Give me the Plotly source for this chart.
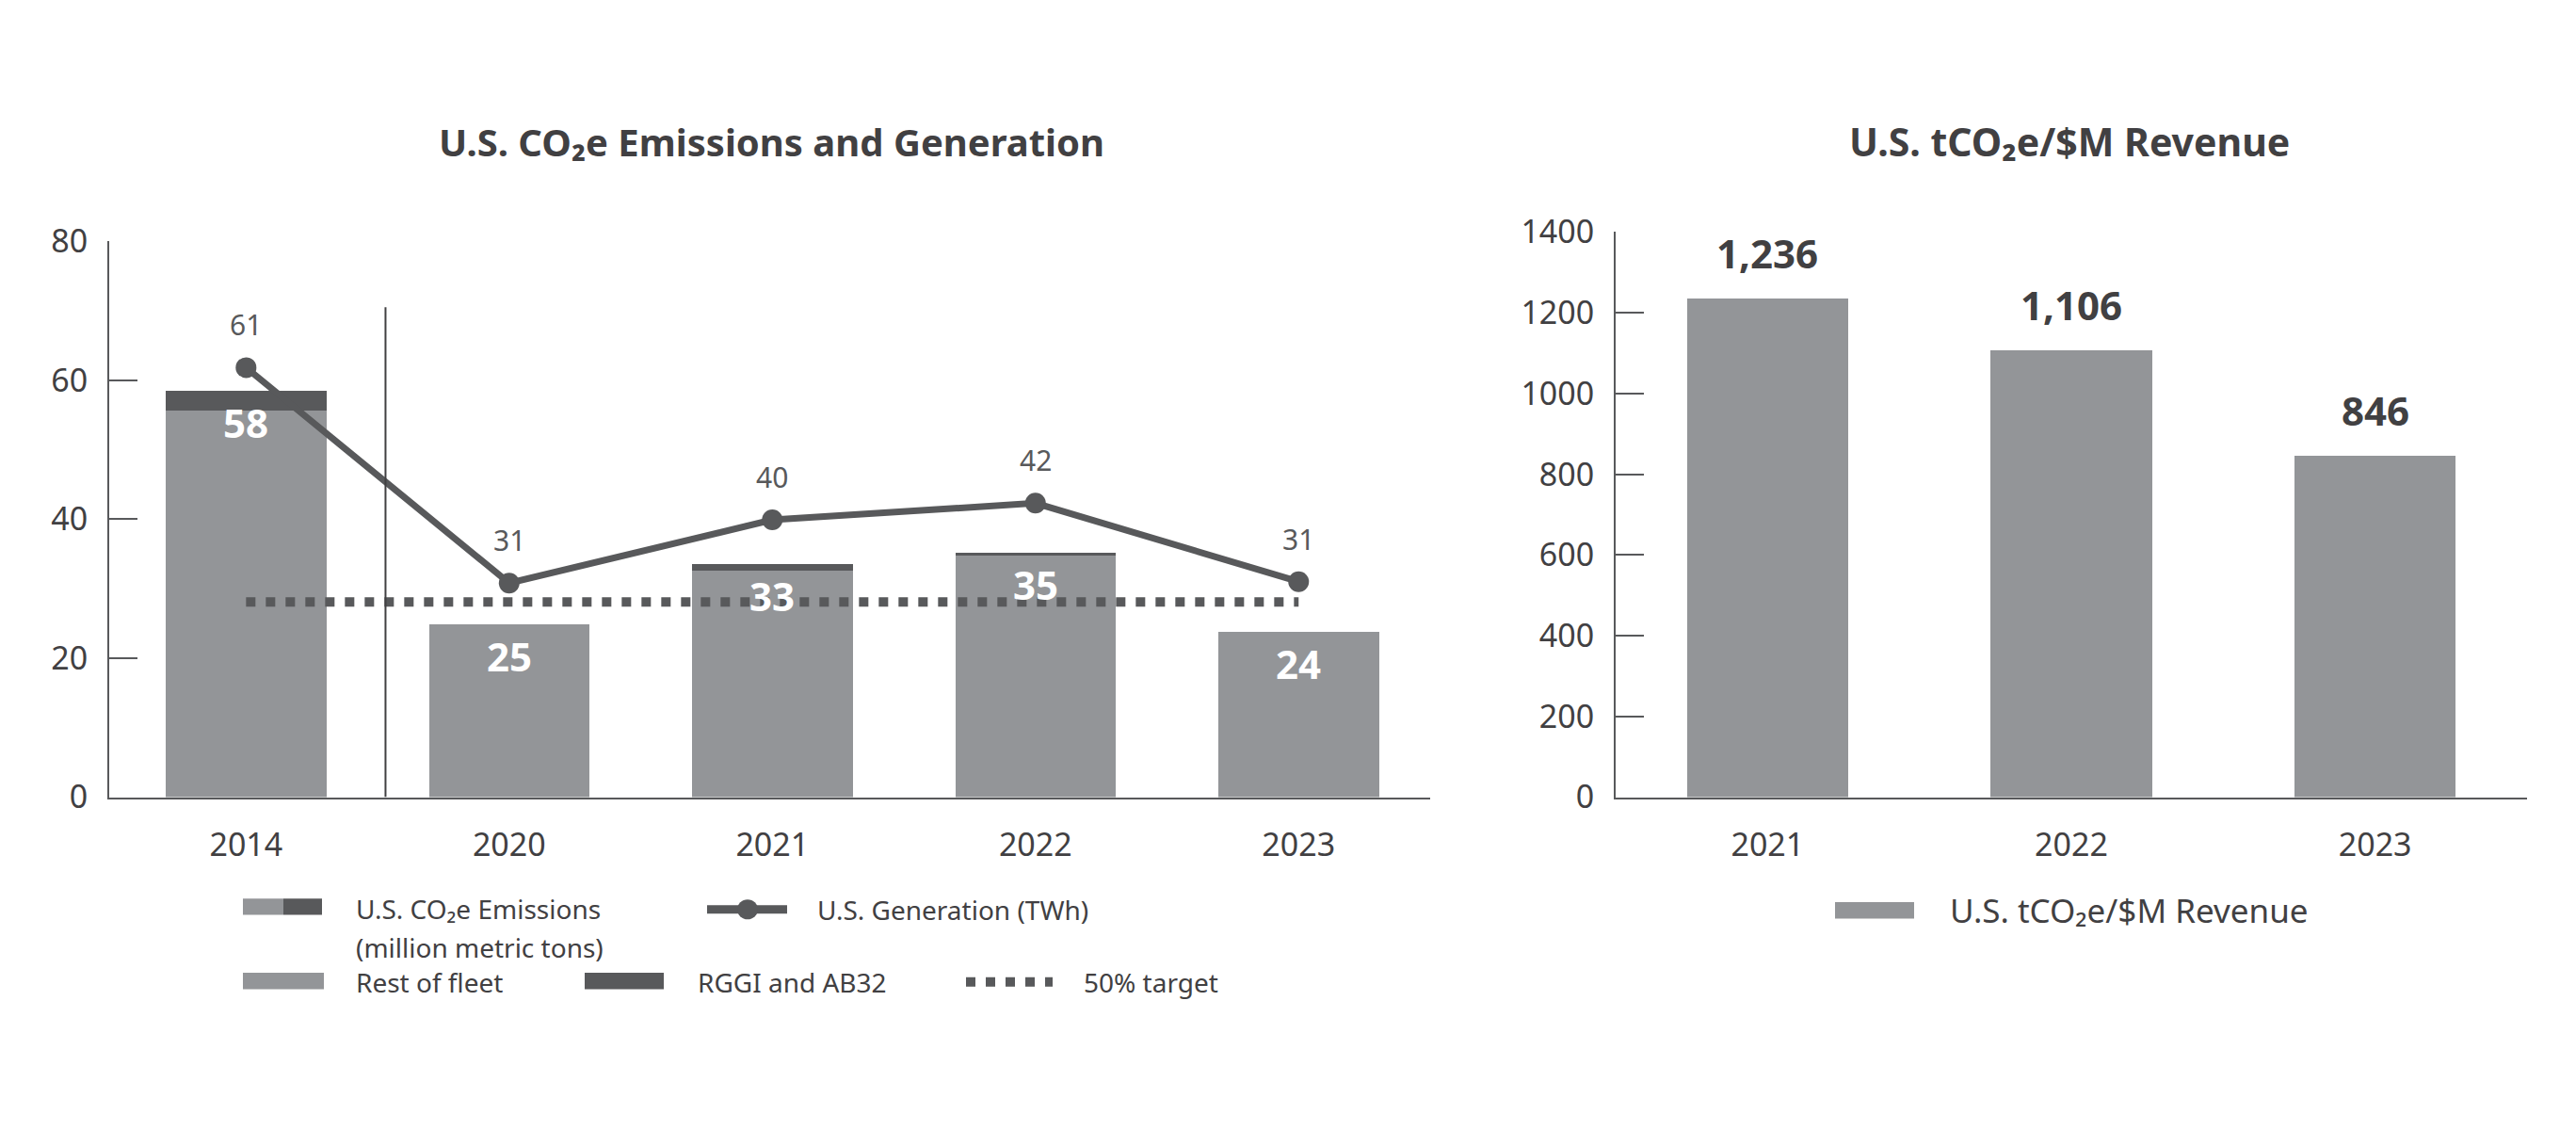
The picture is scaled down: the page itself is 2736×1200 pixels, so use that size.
import plotly.graph_objects as go
from plotly.subplots import make_subplots

# -------------------
# Dados
# -------------------

years_left = ["2014", "2020", "2021", "2022", "2023"]
rest_of_fleet = [55.6, 24.8, 32.6, 34.8, 23.8]
rggi_ab32 = [2.9, 0.0, 0.9, 0.3, 0.0]
emission_labels = ["58", "25", "33", "35", "24"]
generation = [61.8, 30.8, 39.9, 42.3, 31.0]
generation_labels = ["61", "31", "40", "42", "31"]
target_50 = [28.1, 28.1, 28.1, 28.1, 28.1]

years_right = ["2021", "2022", "2023"]
revenue_intensity = [1236, 1106, 846]
revenue_labels = ["1,236", "1,106", "846"]

LIGHT = "#939598"
DARK = "#58595b"
TEXT = "#414042"
FONT = "Noto Sans"
W, H = 2736, 1200
OFF = 8  # margem do body da pagina


def px(x, y):
    # pixel -> paper
    return (x - OFF) / W, 1 - (y - OFF) / H


fig = make_subplots(rows=1, cols=2)

# -------- grafico esquerdo --------

fig.add_trace(go.Bar(x=years_left, y=rest_of_fleet, marker=dict(color=LIGHT, line=dict(width=0)),
                     width=0.61, hoverinfo="skip"), row=1, col=1)
fig.add_trace(go.Bar(x=years_left, y=rggi_ab32, marker=dict(color=DARK, line=dict(width=0)),
                     width=0.61, hoverinfo="skip"), row=1, col=1)

fig.add_trace(go.Scatter(x=years_left, y=target_50, mode="lines",
                         line=dict(color=DARK, width=10, dash="10px,11px"),
                         hoverinfo="skip"), row=1, col=1)

fig.add_trace(go.Scatter(x=years_left, y=generation, mode="lines+markers",
                         line=dict(color=DARK, width=7),
                         marker=dict(color=DARK, size=22),
                         hoverinfo="skip"), row=1, col=1)

# -------- grafico direito --------

fig.add_trace(go.Bar(x=years_right, y=revenue_intensity, marker=dict(color=LIGHT, line=dict(width=0)),
                     width=0.53, hoverinfo="skip"), row=1, col=2)

annotations = []

# eixo categorico: anotacoes pelo indice da categoria
for i, (r, g, lab) in enumerate(zip(rest_of_fleet, rggi_ab32, emission_labels)):
    annotations.append(dict(x=i, y=r + g, xref="x", yref="y", text="<b>" + lab + "</b>",
                            showarrow=False, yanchor="top", yshift=-3,
                            font=dict(family=FONT, size=42, color="white")))

for i, (v, lab) in enumerate(zip(generation, generation_labels)):
    annotations.append(dict(x=i, y=v, xref="x", yref="y", text=lab,
                            showarrow=False, yanchor="bottom", yshift=23,
                            font=dict(family=FONT, size=30, color=DARK)))

for i, (v, lab) in enumerate(zip(revenue_intensity, revenue_labels)):
    annotations.append(dict(x=i, y=v, xref="x2", yref="y2", text="<b>" + lab + "</b>",
                            showarrow=False, yanchor="bottom", yshift=18,
                            font=dict(family=FONT, size=42, color=TEXT)))

# titulos
for cx, title, fs in [(819, "U.S. CO₂e Emissions and Generation", 40), (2198, "U.S. tCO₂e/$M Revenue", 41)]:
    x, y = px(cx, 131)
    annotations.append(dict(x=x, y=y, xref="paper", yref="paper", text="<b>" + title + "</b>",
                            showarrow=False, xanchor="center", yanchor="middle",
                            font=dict(family=FONT, size=fs, color=TEXT)))

# -------------------
# Legenda manual
# -------------------

shapes = []


def rect(x0, x1, yc, h, color):
    a0, b0 = px(x0, yc + h / 2)
    a1, b1 = px(x1, yc - h / 2)
    shapes.append(dict(type="rect", xref="paper", yref="paper", x0=a0, x1=a1, y0=b0, y1=b1,
                       fillcolor=color, line=dict(width=0)))


def label(x, y, text, size=28):
    a, b = px(x, y)
    annotations.append(dict(x=a, y=b, xref="paper", yref="paper", text=text, showarrow=False,
                            xanchor="left", yanchor="middle",
                            font=dict(family=FONT, size=size, color=TEXT)))


rect(258, 301, 976, 18, LIGHT)
rect(301, 342, 976, 18, DARK)
label(376, 978, "U.S. CO₂e Emissions")
label(376, 1021, "(million metric tons)")

a0, b0 = px(751, 979)
a1, _ = px(836, 979)
shapes.append(dict(type="line", xref="paper", yref="paper", x0=a0, x1=a1, y0=b0, y1=b0,
                   line=dict(color=DARK, width=9)))
c0, d0 = px(783, 990)
c1, d1 = px(805, 968)
shapes.append(dict(type="circle", xref="paper", yref="paper", x0=c0, x1=c1, y0=d0, y1=d1,
                   fillcolor=DARK, line=dict(width=0)))
label(866, 979, "U.S. Generation (TWh)")

rect(258, 344, 1058, 18, LIGHT)
label(376, 1059, "Rest of fleet")
rect(621, 705, 1058, 18, DARK)
label(739, 1059, "RGGI and AB32")

a0, b0 = px(1026, 1059)
a1, _ = px(1118, 1059)
shapes.append(dict(type="line", xref="paper", yref="paper", x0=a0, x1=a1, y0=b0, y1=b0,
                   line=dict(color=DARK, width=10, dash="10px,11px")))
label(1149, 1059, "50% target")

rect(1949, 2033, 980, 18, LIGHT)
label(2069, 980, "U.S. tCO₂e/$M Revenue", size=35)

# separador vertical
shapes.append(dict(type="line", xref="x", yref="y", x0=0.53, x1=0.53, y0=0, y1=70.5,
                   line=dict(color=TEXT, width=2)))

axis_common = dict(showgrid=False, zeroline=False, showline=True, linecolor=DARK, linewidth=2,
                   tickfont=dict(family=FONT, size=34, color=TEXT))

xl0, yb = px(116, 855)
xl1, yt_l = px(1519, 241)
xr0, _ = px(1716, 855)
xr1, yt_r = px(2684, 231)

fig.update_layout(
    width=W, height=H,
    barmode="stack",
    showlegend=False,
    margin=dict(l=0, r=0, t=0, b=0),
    plot_bgcolor="white",
    paper_bgcolor="white",
    annotations=annotations,
    shapes=shapes,
    xaxis=dict(domain=[xl0, xl1], type="category", range=[-0.52, 4.5],
               ticks="", ticklabelstandoff=20, **axis_common),
    yaxis=dict(domain=[yb, yt_l], range=[0, 80], tickvals=[0, 20, 40, 60, 80],
               ticks="inside", ticklen=30, tickwidth=2, tickcolor=DARK, ticklabelstandoff=14,
               **axis_common),
    xaxis2=dict(domain=[xr0, xr1], type="category", range=[-0.5, 2.5],
                ticks="", ticklabelstandoff=20, **axis_common),
    yaxis2=dict(domain=[yb, yt_r], range=[0, 1400], dtick=200,
                ticks="inside", ticklen=30, tickwidth=2, tickcolor=DARK, ticklabelstandoff=14,
                **axis_common),
)

fig.write_html("out.html")
